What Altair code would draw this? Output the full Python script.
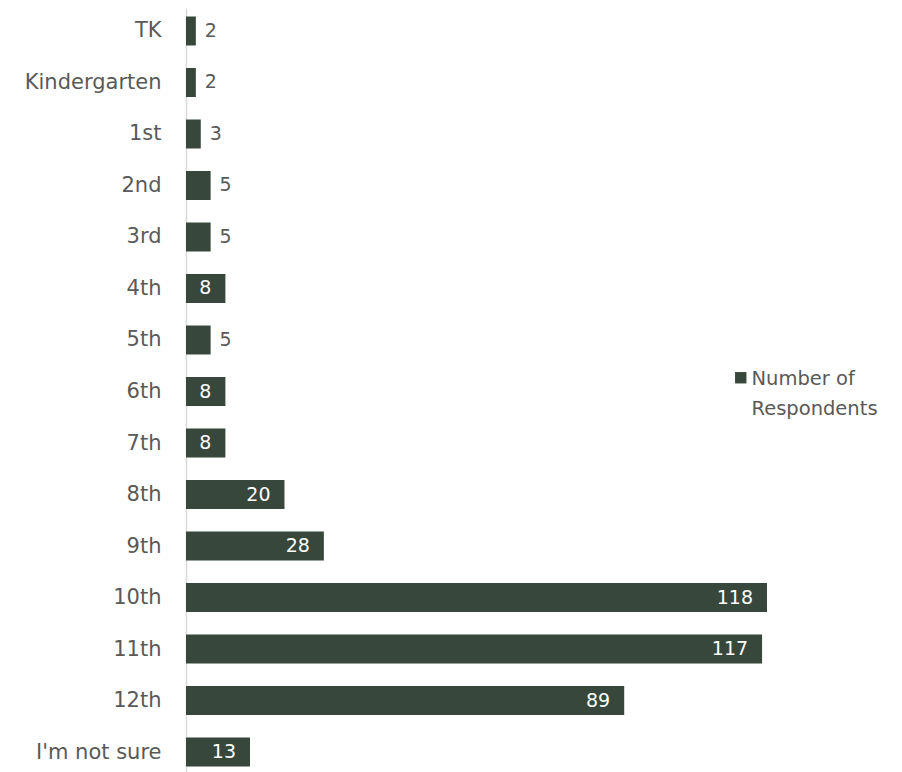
import altair as alt
import pandas as pd

grades = ["TK", "Kindergarten", "1st", "2nd", "3rd", "4th", "5th", "6th", "7th",
          "8th", "9th", "10th", "11th", "12th", "I'm not sure"]
counts = [2, 2, 3, 5, 5, 8, 5, 8, 8, 20, 28, 118, 117, 89, 13]
series_name = "Number of Respondents"

df = pd.DataFrame({"grade": grades, "count": counts, "series": series_name})

FONT = "DejaVu Sans"
BAR = "#37473b"
GRAY = "#595959"

y_enc = alt.Y("grade:N", sort=grades, title=None,
              scale=alt.Scale(paddingInner=0.437, paddingOuter=0.165),
              axis=alt.Axis(ticks=False, labelPadding=25, labelFontSize=21,
                            labelColor=GRAY, labelFont=FONT, labelOffset=8.5,
                            domainColor="#d9d9d9", domainWidth=1.5, grid=False))
x_enc = alt.X("count:Q", title=None,
              scale=alt.Scale(domain=[0, 118], nice=False),
              axis=None)

bars = alt.Chart(df).mark_bar(color=BAR).encode(
    y=y_enc, x=x_enc,
    color=alt.Color("series:N", scale=alt.Scale(range=[BAR]), title=None,
                    legend=alt.Legend(orient="none", legendX=545, legendY=360,
                                      symbolType="square", symbolSize=130,
                                      symbolStrokeWidth=0, symbolFillColor=BAR,
                                      labelFont=FONT, labelFontSize=19.5,
                                      labelColor=GRAY, labelBaseline="top",
                                      labelLimit=300,
                                      labelExpr="['Number of', 'Respondents']",
                                      labelOffset=1))
)

inside = alt.Chart(df).transform_filter("datum.count >= 8").mark_text(
    align="right", baseline="middle", dx=-14, font=FONT, fontSize=19,
    color="white"
).encode(y=alt.Y("grade:N", sort=grades), x="count:Q", text="count:Q")

outside = alt.Chart(df).transform_filter("datum.count < 8").mark_text(
    align="left", baseline="middle", dx=9, font=FONT, fontSize=19,
    color=GRAY
).encode(y=alt.Y("grade:N", sort=grades), x="count:Q", text="count:Q")

chart = alt.layer(bars, inside, outside).properties(
    width=581, height=767,
    autosize=alt.AutoSizeParams(type="none"),
    padding={"left": 178, "top": 0, "right": 120, "bottom": 0},
).configure(
    style={"guide-label": {"lineHeight": 30, "dy": -8}}
).configure_view(strokeWidth=0)

chart.save("out.html", embed_options={"renderer": "svg", "actions": False})
